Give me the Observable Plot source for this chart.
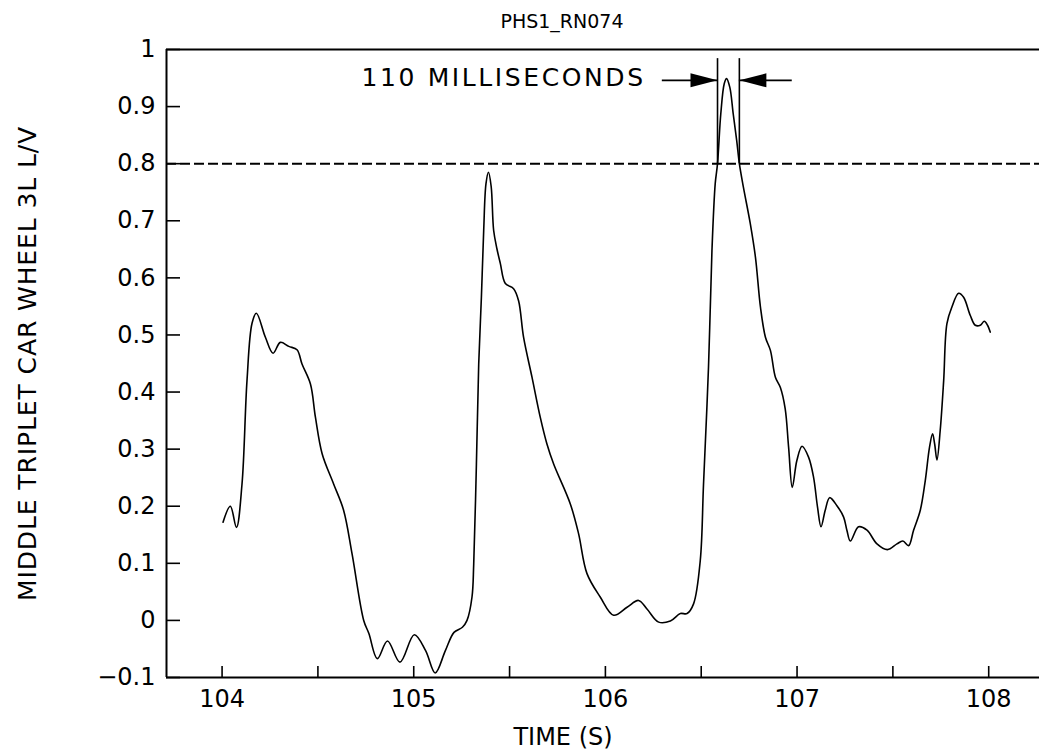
<!DOCTYPE html>
<html><head><meta charset="utf-8">
<script src="https://cdn.jsdelivr.net/npm/d3@7"></script>
<script src="https://cdn.jsdelivr.net/npm/@observablehq/plot@0.6"></script>
<style>
body{margin:0;background:#fff;}
svg{font-family:"DejaVu Sans",sans-serif;}
</style></head><body><div id="chart"></div>
<script>
const titleText = "PHS1_RN074";
const xLabelText = "TIME (S)";
const yLabelText = "MIDDLE TRIPLET CAR WHEEL 3L L/V";

const time = [104.005,104.043,104.075,104.104,104.130,104.156,104.179,104.226,104.266,104.304,104.348,104.391,104.417,104.461,104.487,104.522,104.582,104.634,104.678,104.739,104.766,104.810,104.863,104.928,105.003,105.062,105.112,105.165,105.210,105.254,105.278,105.304,105.313,105.327,105.339,105.353,105.365,105.377,105.390,105.404,105.417,105.434,105.452,105.478,105.521,105.547,105.573,105.617,105.660,105.695,105.730,105.817,105.860,105.904,105.973,106.043,106.113,106.173,106.217,106.278,106.339,106.391,106.426,106.460,106.495,106.512,106.538,106.556,106.573,106.585,106.602,106.620,106.632,106.649,106.667,106.685,106.699,106.720,106.756,106.783,106.809,106.835,106.861,106.887,106.913,106.938,106.956,106.975,106.999,107.026,107.060,107.086,107.107,107.125,107.147,107.170,107.208,107.243,107.260,107.278,107.321,107.365,107.417,107.472,107.521,107.552,107.582,107.608,107.643,107.669,107.691,107.707,107.718,107.730,107.747,107.765,107.782,107.808,107.843,107.869,107.904,107.930,107.956,107.977,107.994,108.008];
const lv = [0.172,0.200,0.163,0.239,0.420,0.520,0.538,0.496,0.468,0.487,0.480,0.474,0.449,0.414,0.356,0.292,0.239,0.193,0.117,0.000,-0.023,-0.067,-0.036,-0.073,-0.025,-0.053,-0.092,-0.053,-0.021,-0.012,0.000,0.041,0.099,0.274,0.449,0.566,0.683,0.765,0.785,0.760,0.683,0.651,0.625,0.590,0.581,0.560,0.496,0.426,0.356,0.309,0.274,0.204,0.152,0.082,0.041,0.009,0.023,0.035,0.020,-0.003,-0.001,0.012,0.012,0.029,0.105,0.239,0.444,0.648,0.765,0.800,0.887,0.940,0.949,0.934,0.887,0.841,0.800,0.759,0.695,0.636,0.549,0.496,0.473,0.426,0.408,0.371,0.303,0.233,0.280,0.305,0.286,0.251,0.198,0.164,0.193,0.215,0.201,0.181,0.158,0.139,0.164,0.158,0.134,0.124,0.134,0.139,0.131,0.158,0.193,0.245,0.303,0.327,0.309,0.281,0.333,0.420,0.520,0.549,0.573,0.566,0.534,0.517,0.517,0.524,0.517,0.505];

const xDomain = [103.71, 108.265];
const yDomain = [-0.1, 1];
const xTickMarks = [104, 104.5, 105, 105.5, 106, 106.5, 107, 107.5, 108];
const xTickLabelValues = [104, 105, 106, 107, 108];
const xTickLabels = ["104", "105", "106", "107", "108"];
const yTickValues = [-0.1, 0, 0.1, 0.2, 0.3, 0.4, 0.5, 0.6, 0.7, 0.8, 0.9, 1];
const yTickLabels = ["\u22120.1", "0", "0.1", "0.2", "0.3", "0.4", "0.5", "0.6", "0.7", "0.8", "0.9", "1"];

const threshold = 0.8;
const windowBounds = [106.585, 106.699];
const bracketTop = 0.984;
const arrowY = 0.946;
const arrowTails = [106.297, 106.975];
const annotationText = "110 MILLISECONDS";
const annotationX = 106.21;

const W = 1039, H = 755, ML = 166, MR = 0, MT = 49, MB = 78;
const plotW = W - ML - MR, plotH = H - MT - MB;

const headRight = {draw(ctx) { ctx.moveTo(0, 0); ctx.lineTo(-27, -7); ctx.lineTo(-27, 7); ctx.closePath(); }};
const headLeft = {draw(ctx) { ctx.moveTo(0, 0); ctx.lineTo(27, -7); ctx.lineTo(27, 7); ctx.closePath(); }};

const data = time.map((t, i) => ({t, v: lv[i]}));

const chart = Plot.plot({
  width: W, height: H,
  marginLeft: ML, marginRight: MR, marginTop: MT, marginBottom: MB,
  style: {fontFamily: "DejaVu Sans", background: "white", color: "black"},
  x: {domain: xDomain},
  y: {domain: yDomain},
  marks: [
    Plot.axisY(yTickValues, {tickSize: 0, tickPadding: 11, fontSize: 24, label: null,
      tickFormat: d => yTickLabels[yTickValues.indexOf(d)]}),
    Plot.axisX(xTickLabelValues, {tickSize: 0, tickPadding: 12, fontSize: 24, label: null,
      tickFormat: d => xTickLabels[xTickLabelValues.indexOf(d)]}),
    Plot.tickY(yTickValues, {y: d => d, insetRight: plotW - 14, strokeWidth: 1.6}),
    Plot.tickX(xTickMarks, {x: d => d, insetTop: plotH - 11, strokeWidth: 1.6}),
    Plot.ruleX([xDomain[0]], {y1: yDomain[0], y2: yDomain[1], strokeWidth: 2}),
    Plot.ruleY([yDomain[0], yDomain[1]], {strokeWidth: 2}),
    Plot.ruleY([threshold], {strokeDasharray: "10,4", strokeWidth: 2}),
    Plot.line(data, {x: "t", y: "v", curve: "catmull-rom", strokeWidth: 1.6, stroke: "black"}),
    Plot.ruleX(windowBounds, {y1: threshold, y2: bracketTop, strokeWidth: 1.6}),
    Plot.ruleY([arrowY], {x1: arrowTails[0], x2: windowBounds[0], strokeWidth: 1.6}),
    Plot.ruleY([arrowY], {x1: windowBounds[1], x2: arrowTails[1], strokeWidth: 1.6}),
    Plot.dot([windowBounds[0]], {x: d => d, y: arrowY, symbol: headRight, r: 5, fill: "black", stroke: null}),
    Plot.dot([windowBounds[1]], {x: d => d, y: arrowY, symbol: headLeft, r: 5, fill: "black", stroke: null}),
    Plot.text([annotationText], {x: annotationX, y: arrowY, dy: -2, textAnchor: "end", fontSize: 25}),
    Plot.text([titleText], {frameAnchor: "top", lineAnchor: "middle", textAnchor: "middle", dy: -28, dx: -41, fontSize: 19}),
    Plot.text([yLabelText], {frameAnchor: "left", rotate: -90, textAnchor: "middle", lineAnchor: "middle", dx: -139, fontSize: 25}),
    Plot.text([xLabelText], {frameAnchor: "bottom", lineAnchor: "middle", textAnchor: "middle", dy: 60, dx: -40, fontSize: 24})
  ]
});
document.getElementById("chart").appendChild(chart);
d3.select(chart).selectAll("text").filter(function() { return this.textContent === annotationText; }).attr("letter-spacing", "2.6px");
d3.select(chart).selectAll("text").filter(function() { return this.textContent === yLabelText; }).attr("letter-spacing", "0.9px");
</script>
</body></html>
